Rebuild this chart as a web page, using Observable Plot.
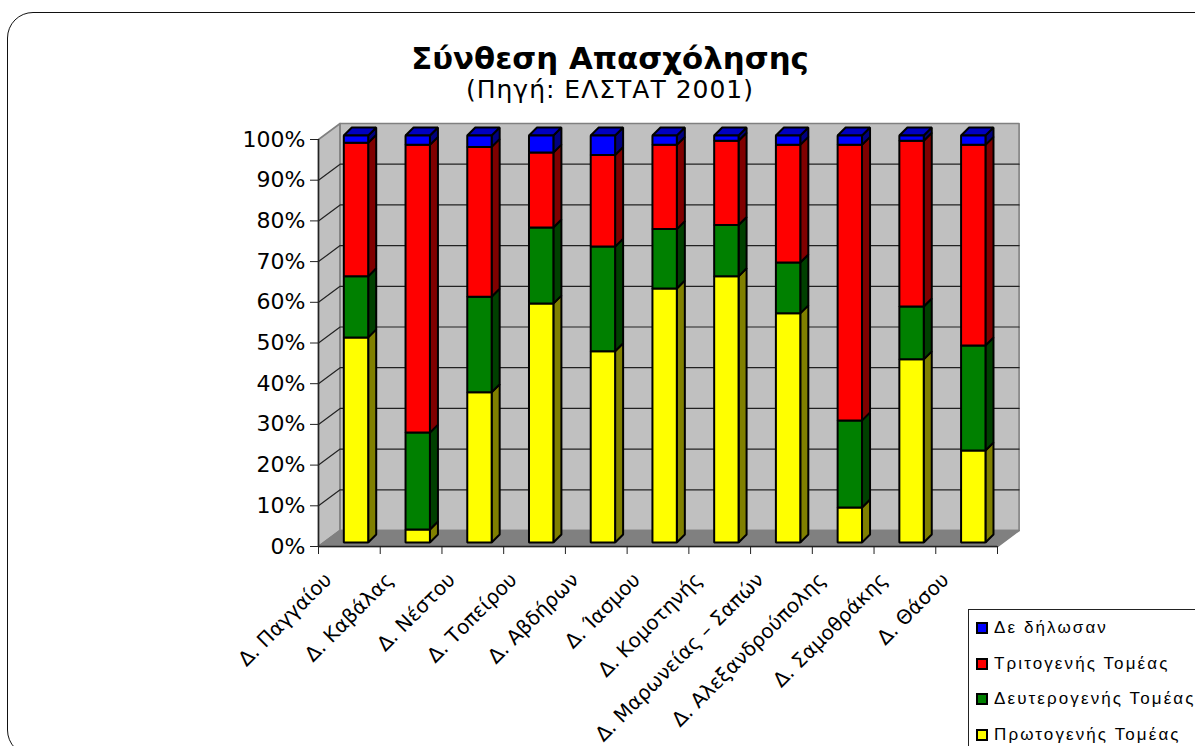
<!DOCTYPE html>
<html><head><meta charset="utf-8">
<script src="https://cdn.jsdelivr.net/npm/d3@7"></script>
<script src="https://cdn.jsdelivr.net/npm/@observablehq/plot@0.6"></script>
<style>
html,body{margin:0;padding:0;background:#fff;overflow:hidden}
#page{position:relative;width:1195px;height:746px;overflow:hidden;font-family:"DejaVu Sans",sans-serif;color:#000}
#frame{position:absolute;left:7px;top:12px;width:1400px;height:744px;border:1.5px solid #111;border-radius:26px;box-sizing:border-box}
#head{position:relative;height:105px;width:1220px;text-align:center}
#head h1{position:absolute;left:0;right:0;top:40px;margin:0;font-size:30.8px;line-height:36px;font-weight:bold}
#head p{position:absolute;left:0;right:0;top:76px;margin:0;font-size:25px;line-height:28px;letter-spacing:1px}
#chart{position:relative}
#chart svg{display:block;overflow:hidden}
#legend{position:absolute;left:968px;top:609px;width:300px;height:200px;background:#fff;border:1px solid #222;box-sizing:border-box;font-family:"Liberation Sans",sans-serif;font-size:17px;letter-spacing:2.1px}
#legend div{position:absolute;left:25px;white-space:nowrap;line-height:20px}
#legend i{position:absolute;left:-18px;top:4px;width:12px;height:12px;box-sizing:border-box;border:2px solid #000}
</style></head><body>
<div id="page">
<div id="frame"></div>
<div id="head"><h1>Σύνθεση Απασχόλησης</h1><p>(Πηγή: ΕΛΣΤΑΤ 2001)</p></div>
<div id="chart"></div>
<div id="legend"></div>
</div>
<script>
const municipalities = ["Δ. Παγγαίου","Δ. Καβάλας","Δ. Νέστου","Δ. Τοπείρου","Δ. Αβδήρων","Δ. Ίασμου","Δ. Κομοτηνής","Δ. Μαρωνείας – Σαπών","Δ. Αλεξανδρούπολης","Δ. Σαμοθράκης","Δ. Θάσου"];
const primary   = [50.4, 3.2, 36.9, 58.7, 47.0, 62.4, 65.4, 56.3, 8.6, 45.0, 22.6];
const secondary = [15.0, 23.8, 23.5, 18.7, 25.7, 14.6, 12.6, 12.5, 21.4, 13.0, 25.8];
const tertiary  = [32.8, 70.7, 36.8, 18.4, 22.5, 20.7, 20.7, 28.9, 67.7, 40.7, 49.3];
const undeclared= [1.8, 2.3, 2.8, 4.2, 4.8, 2.3, 1.3, 2.3, 2.3, 1.3, 2.3];
const seriesNames = ["Πρωτογενής Τομέας","Δευτερογενής Τομέας","Τριτογενής Τομέας","Δε δήλωσαν"];
const seriesValues = [primary, secondary, tertiary, undeclared];
const frontColors = ["#ffff00","#008000","#ff0000","#0000ff"];
const sideColors  = ["#808000","#004000","#800000","#000080"];
const topColor = "#0000c0";
const percentTicks = d3.range(0, 101, 10);

// projection of the 3-D box, in data units
const wallX = 0.35, wallY = 3.93;   // depth of the walls
const insetX = 0.41, insetY = 0.98; // front-left corner of a bar inside its slot
const barW = 0.395, barDX = 0.13, barDY = 1.97; // bar width and depth

const polys = [];
let pid = 0;
const poly = (pts, fill, stroke) => { const id = pid++; pts.forEach(([x,y]) => polys.push({id, x, y, fill, stroke})); };
municipalities.forEach((m, i) => {
  const x0 = i + insetX, x1 = x0 + barW;
  let acc = 0;
  seriesValues.forEach((vals, s) => {
    const y0 = acc + insetY, y1 = acc + vals[i] + insetY;
    acc += vals[i];
    poly([[x1,y0],[x1+barDX,y0+barDY],[x1+barDX,y1+barDY],[x1,y1]], sideColors[s], "#000");
    if (s === seriesValues.length - 1)
      poly([[x0,y1],[x1,y1],[x1+barDX,y1+barDY],[x0+barDX,y1+barDY]], topColor, "#000");
    poly([[x0,y0],[x1,y0],[x1,y1],[x0,y1]], frontColors[s], "#000");
  });
});
const n = municipalities.length;
const walls = [];
const wall = (pts, fill, id) => pts.forEach(([x,y]) => walls.push({id, x, y, fill}));
wall([[0,0],[wallX,wallY],[wallX,100+wallY],[0,100]], "#c0c0c0", "left");
wall([[wallX,wallY],[n+wallX,wallY],[n+wallX,100+wallY],[wallX,100+wallY]], "#c0c0c0", "back");
wall([[0,0],[n,0],[n+wallX,wallY],[wallX,wallY]], "#808080", "floor");
const grid = percentTicks.slice(1,-1).flatMap(p => [
  {p, x:0, y:p},{p, x:wallX, y:p+wallY},{p, x:n+wallX, y:p+wallY}
]);

const chart = Plot.plot({
  width: 1195, height: 641,
  marginLeft: 318, marginRight: 198, marginTop: 34, marginBottom: 200,
  x: {type:"linear", domain:[0,n]},
  y: {type:"linear", domain:[0,100]},
  color: {type:"identity"},
  style: {background:"transparent", fontFamily:"DejaVu Sans, sans-serif", overflow:"hidden"},
  marks: [
    Plot.line(walls, {x:"x", y:"y", z:"id", fill:"fill", stroke:"#808080", strokeWidth:1.6, curve:"linear-closed"}),
    Plot.line(grid, {x:"x", y:"y", z:"p", stroke:"#222", strokeWidth:1.2}),
    Plot.ruleX([0], {y1:0, y2:100, stroke:"#222", strokeWidth:1.5}),
    Plot.ruleY([0], {x1:0, x2:n, stroke:"#222", strokeWidth:1.5}),
    Plot.line(polys, {x:"x", y:"y", z:"id", fill:"fill", stroke:"stroke", strokeWidth:2, strokeLinejoin:"miter", curve:"linear-closed"}),
    Plot.axisY({ticks:percentTicks, tickFormat:d=>d+"%", tickSize:8, tickPadding:5, fontSize:22, label:null, stroke:"#222"}),
    Plot.axisX({ticks:d3.range(n+1), tickFormat:()=>"", tickSize:8, label:null, stroke:"#222"}),
    Plot.axisX({ticks:d3.range(n).map(i=>i+0.5), tickFormat:d=>municipalities[Math.floor(d)], tickSize:0, tickPadding:30, tickRotate:-45, fontSize:20, dx:-21, label:null})
  ]
});
document.getElementById("chart").appendChild(chart);

const legend = document.getElementById("legend");
[3,2,1,0].forEach((s,row) => {
  const d = document.createElement("div");
  d.style.top = (8 + row*35.5) + "px";
  d.innerHTML = `<i style="background:${frontColors[s]}"></i>${seriesNames[s]}`;
  legend.appendChild(d);
});
</script>
</body></html>
